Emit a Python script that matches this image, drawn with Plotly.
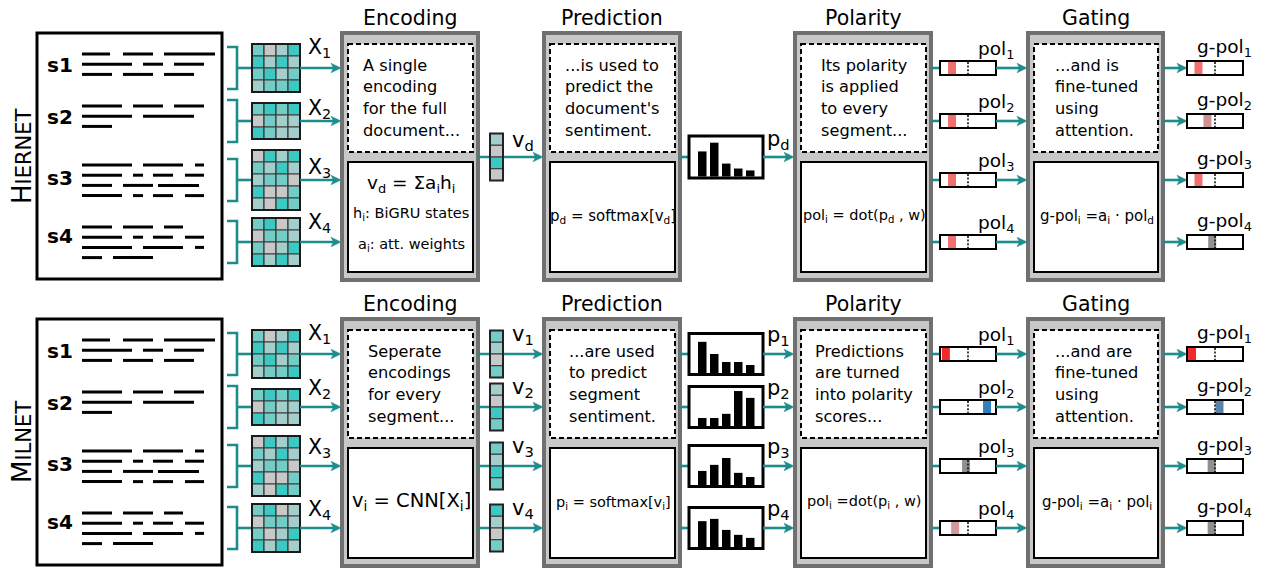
import plotly.graph_objects as go

FONT = "DejaVu Sans"
W, H = 1261, 568
TEAL = "#1f8c8c"
BOX_GREY = "#c8c8c8"
BOX_EDGE = "#707070"

# ---------------- content / data ----------------
networks = ["HierNet", "MilNet"]
network_labels = [
    "H<span style='font-size:21px'>IERNET</span>",
    "M<span style='font-size:21px'>ILNET</span>",
]
segment_names = ["s1", "s2", "s3", "s4"]
stage_titles = ["Encoding", "Prediction", "Polarity", "Gating"]

notes_hier = [
    ["A single", "encoding", "for the full", "document..."],
    ["...is used to", "predict the", "document's", "sentiment."],
    ["Its polarity", "is applied", "to every", "segment..."],
    ["...and is", "fine-tuned", "using", "attention."],
]
notes_mil = [
    ["Seperate", "encodings", "for every", "segment..."],
    ["...are used", "to predict", "segment", "sentiment."],
    ["Predictions", "are turned", "into polarity", "scores..."],
    ["...and are", "fine-tuned", "using", "attention."],
]
formulas_hier = [
    [("v<sub>d</sub> = Σa<sub>i</sub>h<sub>i</sub>", 18.5, 184),
     ("h<sub>i</sub>: BiGRU states", 14.5, 214),
     ("a<sub>i</sub>: att. weights", 14.5, 245)],
    [("p<sub>d</sub> = softmax[v<sub>d</sub>]", 15, 216)],
    [("pol<sub>i</sub> = dot(p<sub>d</sub> , w)", 14.5, 216)],
    [("g-pol<sub>i</sub> =a<sub>i</sub> · pol<sub>d</sub>", 15, 216)],
]
formulas_mil = [
    [("v<sub>i</sub> = CNN[X<sub>i</sub>]", 19.5, 215)],
    [("p<sub>i</sub> = softmax[v<sub>i</sub>]", 14.5, 217)],
    [("pol<sub>i</sub> =dot(p<sub>i</sub> , w)", 14.5, 216)],
    [("g-pol<sub>i</sub> =a<sub>i</sub> · pol<sub>i</sub>", 15, 216)],
]

# word-embedding matrices X_i (colour level per cell: 0 grey ... 3 bright teal)
X_grids = [
    [[2, 0, 1, 3], [3, 1, 3, 1], [2, 3, 1, 2], [1, 2, 2, 3]],
    [[2, 3, 2, 3], [0, 2, 1, 1], [3, 2, 1, 1]],
    [[0, 3, 1, 3], [2, 1, 3, 1], [1, 2, 2, 0], [3, 0, 0, 2], [1, 0, 3, 2]],
    [[2, 3, 0, 1], [0, 2, 2, 1], [2, 0, 1, 3], [3, 1, 3, 1]],
]
vd_cells = [1, 0, 3, 0]
v_cells = [[2, 1, 0, 2], [1, 0, 3, 2], [2, 1, 3, 2], [3, 1, 0, 2]]

# sentiment distributions (bar heights, fraction of box height)
pd_hist = [0.66, 0.89, 0.34, 0.21, 0.16]
p_hists = [
    [0.82, 0.50, 0.29, 0.29, 0.21],
    [0.21, 0.21, 0.32, 0.92, 0.74],
    [0.37, 0.53, 0.71, 0.32, 0.21],
    [0.68, 0.74, 0.45, 0.32, 0.24],
]

# polarity scores in [-1, 1] and their colours
pol_hier = [-0.57, -0.57, -0.57, -0.57]
pol_hier_col = ["#f07070", "#f07070", "#f07070", "#f07070"]
gpol_hier = [-0.59, -0.27, -0.59, -0.10]
gpol_hier_col = ["#f07070", "#c89494", "#f07070", "#909090"]
pol_mil = [-0.79, 0.68, -0.07, -0.46]
pol_mil_col = ["#ee2a2a", "#2f80c0", "#909090", "#d49a9a"]
gpol_mil = [-0.82, 0.16, -0.12, -0.12]
gpol_mil_col = ["#ee2a2a", "#5a85a8", "#909090", "#909090"]

PALETTE = ["#c8c8c8", "#a3cecb", "#74ccc7", "#3dc9c3"]

# ---------------- layout constants ----------------
OFFSETS = [0, 286]
ROW_Y = [68, 121, 180, 242]
MID_Y = 157
STAGES_X = [(342, 478), (544, 680), (795, 931), (1028, 1163)]
NOTE_X = [[361, 563, 819, 1053], [366, 567, 813, 1053]]
X_LABEL_DY = [[-22, -14, -14, -21], [-22, -20, -20, -20]]
SEG_LABEL_Y = [66, 118, 179, 237]
SEG_LINE_Y0 = [54, 106, 165, 227]
doc_strokes = [
    [[(82, 110), (123, 153), (164, 215)], [(82, 132), (143, 163), (174, 204)], [(82, 112), (123, 153), (164, 194)]],
    [[(82, 122), (133, 163), (174, 204)], [(82, 132), (143, 194)], [(82, 112)]],
    [[(82, 132), (143, 183), (195, 204)], [(82, 122), (133, 143), (153, 173), (185, 204)],
     [(82, 112), (123, 153), (158, 199)], [(82, 122), (133, 143), (153, 173), (185, 204)]],
    [[(82, 112), (123, 153), (164, 183)], [(82, 122), (133, 143), (153, 173), (185, 204)],
     [(82, 132), (143, 183), (195, 204)], [(82, 102), (113, 153)]],
]
CELL = 12
GX0 = 252
HIST_X0, HIST_X1 = 689, 763
HIST_SCALE = 38
POL_X0, POL_X1 = 940, 996
GPOL_X0, GPOL_X1 = 1187, 1243

shapes = []
ann = []


def rect(x0, y0, x1, y1, fill="white", line="black", lw=2, dash=None):
    ln = dict(color=line, width=lw)
    if dash:
        ln["dash"] = dash
    shapes.append(dict(type="rect", xref="x", yref="y", x0=x0, y0=y0, x1=x1, y1=y1,
                       fillcolor=fill, line=ln, layer="above"))


def seg(x0, y0, x1, y1, color="black", lw=2, dash=None):
    ln = dict(color=color, width=lw)
    if dash:
        ln["dash"] = dash
    shapes.append(dict(type="line", xref="x", yref="y", x0=x0, y0=y0, x1=x1, y1=y1, line=ln))


def head(x, y, color=TEAL, L=10, hh=4.8):
    p = f"M{x},{y} L{x-L},{y-hh} L{x-L+2.5},{y} L{x-L},{y+hh} Z"
    shapes.append(dict(type="path", xref="x", yref="y", path=p, fillcolor=color,
                       line=dict(color=color, width=0.5)))


def arrow(x0, x1, y, with_head=True, lw=2.6):
    seg(x0, y, x1 - (6 if with_head else 0), y, color=TEAL, lw=lw)
    if with_head:
        head(x1, y)


def text(x, y, s, size, anchor="center", bold=False, angle=0):
    if bold:
        s = f"<b>{s}</b>"
    ann.append(dict(x=x, y=y, xref="x", yref="y", text=s, showarrow=False, xanchor=anchor,
                    yanchor="middle", textangle=angle,
                    font=dict(family=FONT, size=size, color="black")))


def pol_bar(x0, x1, yc, value, color):
    mid = (x0 + x1) / 2
    half = (x1 - x0) / 2
    rect(x0, yc - 7, x1, yc + 7, fill="white", line="black", lw=0)
    c = mid + value * half
    rect(c - 4, yc - 6, c + 4, yc + 6, fill=color, line=color, lw=0)
    rect(x0, yc - 7, x1, yc + 7, fill="rgba(0,0,0,0)", line="black", lw=2)
    seg(mid, yc - 6, mid, yc + 6, color="black", lw=1.5, dash="2px,1.6px")


def hist(yc, values, height):
    top = yc - height / 2
    bot = yc + height / 2
    rect(HIST_X0, top, HIST_X1, bot, fill="white", line="black", lw=3)
    for k, v in enumerate(values):
        bx = HIST_X0 + 9 + 12 * k
        rect(bx, bot - 1.5 - v * HIST_SCALE, bx + 8.5, bot - 1.5, fill="black", line="black", lw=0)


def vector(yc, cells):
    n = len(cells)
    h = 11.75
    top = yc - n * h / 2
    for k, lv in enumerate(cells):
        rect(490, top + k * h, 503, top + (k + 1) * h, fill=PALETTE[lv], line="#333333", lw=1.2)
    rect(490, top, 503, top + n * h, fill="rgba(0,0,0,0)", line="#222222", lw=2)


for ni, o in enumerate(OFFSETS):
    notes = notes_hier if ni == 0 else notes_mil
    formulas = formulas_hier if ni == 0 else formulas_mil
    # document box
    rect(37, 33 + o, 222, 279 + o, fill="white", line="black", lw=3)
    text(22, 156 + o, network_labels[ni], 26, angle=-90)
    for si, name in enumerate(segment_names):
        text(60, SEG_LABEL_Y[si] + o - 1, name, 20, bold=True)
        for li, strokes in enumerate(doc_strokes[si]):
            yy = SEG_LINE_Y0[si] + li * 10.2 + o
            for (a, b) in strokes:
                seg(a, yy, b, yy, color="black", lw=3)
    # stage boxes
    for k, (x0, x1) in enumerate(STAGES_X):
        rect(x0, 33 + o, x1, 280 + o, fill=BOX_GREY, line=BOX_EDGE, lw=4)
        rect(x0 + 6, 44 + o, x1 - 5, 152 + o, fill="white", line="black", lw=2, dash="5px,3px")
        rect(x0 + 6, 162 + o, x1 - 5, 272 + o, fill="white", line="black", lw=2)
        text((x0 + x1) / 2, 18 + o, stage_titles[k], 20.5)
        for li, s in enumerate(notes[k]):
            text(NOTE_X[ni][k], 65 + li * 21.7 + o, s, 16.2, anchor="left")
        for (s, size, yy) in formulas[k]:
            text((x0 + x1) / 2 + 1, yy + o, s, size)
    # segment rows: brackets, grids, arrows, polarity bars
    pols = pol_hier if ni == 0 else pol_mil
    pcols = pol_hier_col if ni == 0 else pol_mil_col
    gpols = gpol_hier if ni == 0 else gpol_mil
    gcols = gpol_hier_col if ni == 0 else gpol_mil_col
    for gi, grid in enumerate(X_grids):
        yc = ROW_Y[gi] + o
        shapes.append(dict(type="path", xref="x", yref="y",
                           path=f"M227,{yc-21} L237,{yc-21} L237,{yc+21} L227,{yc+21}",
                           fillcolor="rgba(0,0,0,0)", line=dict(color=TEAL, width=2.6)))
        seg(237, yc, GX0, yc, color=TEAL, lw=2.6)
        nr = len(grid)
        top = yc - nr * CELL / 2
        for r, rowvals in enumerate(grid):
            for c, lv in enumerate(rowvals):
                rect(GX0 + c * CELL, top + r * CELL, GX0 + (c + 1) * CELL, top + (r + 1) * CELL,
                     fill=PALETTE[lv], line="#3a3a3a", lw=1.2)
        rect(GX0, top, GX0 + 4 * CELL, top + nr * CELL, fill="rgba(0,0,0,0)", line="#1a1a1a", lw=2)
        text(306, yc + X_LABEL_DY[ni][gi] + 2, f"X<sub>{gi+1}</sub>", 20.5, anchor="left")
        arrow(GX0 + 4 * CELL, 341, yc)
        # polarity
        seg(931, yc, POL_X0, yc, color=TEAL, lw=2.6)
        pol_bar(POL_X0, POL_X1, yc, pols[gi], pcols[gi])
        text(976, yc - 18, f"pol<sub>{gi+1}</sub>", 18.5, anchor="left")
        arrow(POL_X1, 1027, yc)
        # gating
        arrow(1163, GPOL_X0, yc)
        pol_bar(GPOL_X0, GPOL_X1, yc, gpols[gi], gcols[gi])
        text(1195, yc - 20, f"g-pol<sub>{gi+1}</sub>", 18.5, anchor="left")
    # encoding -> prediction -> polarity
    if ni == 0:
        yc = MID_Y
        arrow(478, 543, yc)
        vector(yc, vd_cells)
        text(510, yc - 16, "v<sub>d</sub>", 21, anchor="left")
        seg(680, yc, HIST_X0, yc, color=TEAL, lw=2.6)
        hist(yc, pd_hist, 42)
        arrow(HIST_X1, 794, yc)
        text(765, yc - 17, "p<sub>d</sub>", 21, anchor="left")
    else:
        for k in range(4):
            yc = ROW_Y[k] + o
            arrow(478, 543, yc)
            vector(yc, v_cells[k])
            text(510, yc - 19, f"v<sub>{k+1}</sub>", 21, anchor="left")
            seg(680, yc, HIST_X0, yc, color=TEAL, lw=2.6)
            hist(yc, p_hists[k], 41)
            arrow(HIST_X1, 794, yc)
            text(765, yc - 18, f"p<sub>{k+1}</sub>", 21, anchor="left")

fig = go.Figure()
fig.add_trace(go.Scatter(x=[0, W], y=[0, H], mode="markers", marker=dict(opacity=0), hoverinfo="skip",
                         showlegend=False))
fig.update_layout(
    width=W, height=H, margin=dict(l=0, r=0, t=0, b=0),
    paper_bgcolor="white", plot_bgcolor="white",
    xaxis=dict(range=[0, W], visible=False, fixedrange=True),
    yaxis=dict(range=[H, 0], visible=False, fixedrange=True),
    shapes=shapes, annotations=ann, showlegend=False, hovermode=False,
)
fig.write_html("out.html", config={"displayModeBar": False, "staticPlot": True},
               post_script="document.body.style.margin='0';document.body.style.overflow='hidden';")
